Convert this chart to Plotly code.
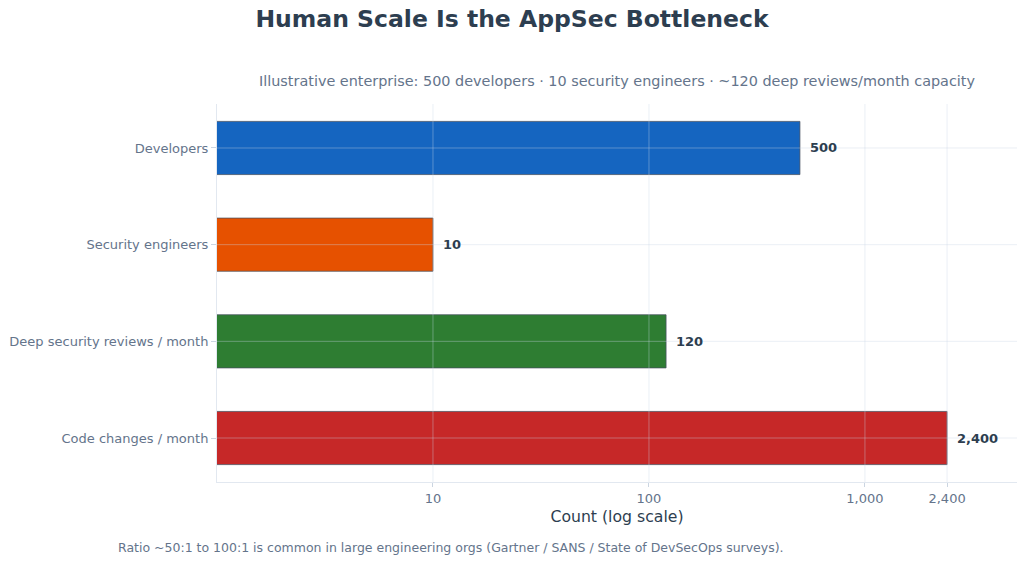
import math
import plotly.graph_objects as go

# data
categories = ["Developers", "Security engineers", "Deep security reviews / month", "Code changes / month"]
counts = [500, 10, 120, 2400]
bar_colors = ["#1565C0", "#E65100", "#2E7D32", "#C62828"]
tick_vals = [10, 100, 1000, 2400]
tick_text = ["10", "100", "1,000", "2,400"]

TITLE = "Human Scale Is the AppSec Bottleneck"
SUBTITLE = "Illustrative enterprise: 500 developers · 10 security engineers · ~120 deep reviews/month capacity"
FOOTNOTE = "Ratio ~50:1 to 100:1 is common in large engineering orgs (Gartner / SANS / State of DevSecOps surveys)."

DARK = "#2D3E50"
MUTED = "#64748B"
GRID = "rgba(200,212,228,0.38)"
FONT = "DejaVu Sans"

fig = go.Figure()
fig.add_trace(go.Bar(
    y=categories,
    x=counts,
    orientation="h",
    width=0.55,
    marker=dict(color=bar_colors, line=dict(color="rgba(70,80,95,0.75)", width=1)),
    hoverinfo="x+y",
    showlegend=False,
))

# value labels just right of each bar end (annotations on a log axis take log10 x)
for cat, val in zip(categories, counts):
    fig.add_annotation(x=math.log10(val), y=cat, xref="x", yref="y", text=f"<b>{val:,}</b>",
                       showarrow=False, xanchor="left", xshift=8,
                       font=dict(size=13, color=DARK, family=FONT))

# grid lines drawn above the bars (as in the reference)
for v in tick_vals:
    fig.add_shape(type="line", xref="x", yref="paper", x0=v, x1=v, y0=0, y1=1,
                  line=dict(color=GRID, width=1), layer="above")
for cat in categories:
    fig.add_shape(type="line", xref="paper", yref="y", x0=0, x1=1, y0=cat, y1=cat,
                  line=dict(color=GRID, width=1), layer="above")

fig.add_annotation(text=SUBTITLE, xref="paper", yref="paper", x=0.5, y=1.0, yshift=23,
                   showarrow=False, xanchor="center", yanchor="middle",
                   font=dict(size=14.4, color=MUTED, family=FONT))
fig.add_annotation(text=FOOTNOTE, xref="paper", yref="paper", x=-0.1265, y=0, yshift=-65,
                   showarrow=False, xanchor="left", yanchor="middle",
                   font=dict(size=12.5, color=MUTED, family=FONT))

fig.update_layout(
    width=1024, height=561,
    paper_bgcolor="white", plot_bgcolor="white",
    font=dict(family=FONT, color=MUTED, size=13),
    title=dict(text=f"<b>{TITLE}</b>", x=0.5, xanchor="center", y=0.967, yanchor="middle",
               font=dict(size=23.5, color=DARK, family=FONT)),
    margin=dict(l=217, r=7, t=104, b=79),
)
fig.update_xaxes(
    type="log", range=[0, 3.704],
    tickvals=tick_vals, ticktext=tick_text,
    showgrid=False, zeroline=False,
    showline=True, linecolor="#E2E8F0", linewidth=1,
    ticks="outside", ticklen=4, tickcolor="#CBD5E1",
    tickfont=dict(size=13, color=MUTED),
    title=dict(text="Count (log scale)", font=dict(size=15.7, color=DARK), standoff=6),
)
fig.update_yaxes(
    categoryorder="array", categoryarray=categories,
    range=[3.455, -0.455],
    showgrid=False, zeroline=False,
    showline=True, linecolor="#E2E8F0", linewidth=1,
    ticks="outside", ticklen=5, tickcolor="#CBD5E1",
    tickfont=dict(size=13, color=MUTED),
    automargin=False,
)

fig.write_html("out.html", config={"displayModeBar": False},
               post_script="document.body.style.margin = '0';")
